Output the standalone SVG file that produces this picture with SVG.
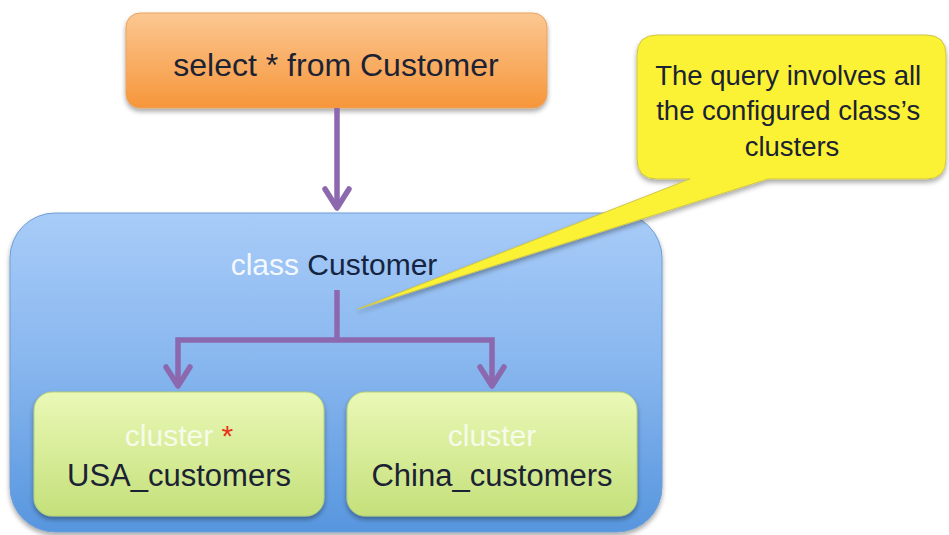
<svg xmlns="http://www.w3.org/2000/svg" width="949" height="535" viewBox="0 0 949 535">
  <defs>
    <linearGradient id="gOrange" x1="0" y1="0" x2="0" y2="1">
      <stop offset="0" stop-color="#FCC792"/>
      <stop offset="1" stop-color="#F6963A"/>
    </linearGradient>
    <linearGradient id="gBlue" x1="0" y1="0" x2="0" y2="1">
      <stop offset="0" stop-color="#A8CCF8"/>
      <stop offset="0.5" stop-color="#86B5EE"/>
      <stop offset="1" stop-color="#5796DE"/>
    </linearGradient>
    <linearGradient id="gGreen" x1="0" y1="0" x2="0" y2="1">
      <stop offset="0" stop-color="#EAF8B6"/>
      <stop offset="1" stop-color="#C4E07A"/>
    </linearGradient>
    <filter id="shadow" x="-10%" y="-10%" width="120%" height="130%">
      <feGaussianBlur in="SourceAlpha" stdDeviation="2.5"/>
      <feOffset dx="0" dy="2.5" result="b"/>
      <feComponentTransfer><feFuncA type="linear" slope="0.35"/></feComponentTransfer>
      <feMerge><feMergeNode/><feMergeNode in="SourceGraphic"/></feMerge>
    </filter>
    <marker id="chev" markerUnits="userSpaceOnUse" viewBox="0 0 30 30" markerWidth="30" markerHeight="30" refX="24" refY="15" orient="auto">
      <path d="M5,3 L24,15 L5,27" fill="none" stroke="#8C68AE" stroke-width="5.5" stroke-linecap="round" stroke-linejoin="round"/>
    </marker>
    <style>
      text { font-family: "Liberation Sans", Arial, sans-serif; }
      .dark { fill: #1B2233; }
      .light { fill: #F4F8FF; }
      .conn { fill: none; stroke: #8C68AE; stroke-width: 5.5; stroke-linejoin: miter; }
    </style>
  </defs>

  <rect width="949" height="535" fill="#FFFFFF"/>

  <g id="query">
    <rect x="126" y="13" width="421" height="95" rx="14" fill="url(#gOrange)" stroke="#E9A25E" stroke-width="1" filter="url(#shadow)"/>
    <text x="336" y="76" font-size="32" text-anchor="middle" class="dark">select * from Customer</text>
  </g>

  <g id="class-customer">
    <rect x="10" y="213" width="652" height="319" rx="45" fill="url(#gBlue)" stroke="#6F9ED6" stroke-width="1" filter="url(#shadow)"/>
    <text x="334" y="275" font-size="30" text-anchor="middle"><tspan class="light">class</tspan><tspan fill="#152440"> Customer</tspan></text>
  </g>

  <g id="cluster-usa">
    <rect x="34" y="392" width="290" height="124" rx="18" fill="url(#gGreen)" stroke="#B5CF78" stroke-width="1" filter="url(#shadow)"/>
    <text x="179" y="446" font-size="30" text-anchor="middle"><tspan fill="#F6FBEA">cluster</tspan><tspan fill="#E8341C"> *</tspan></text>
    <text x="179" y="486" font-size="31" text-anchor="middle" class="dark">USA_customers</text>
  </g>

  <g id="cluster-china">
    <rect x="347" y="392" width="290" height="124" rx="18" fill="url(#gGreen)" stroke="#B5CF78" stroke-width="1" filter="url(#shadow)"/>
    <text x="492" y="446" font-size="30" text-anchor="middle" fill="#F6FBEA">cluster</text>
    <text x="492" y="486" font-size="31" text-anchor="middle" class="dark">China_customers</text>
  </g>

  <g id="connectors">
    <path class="conn" d="M337,108 L337,208" marker-end="url(#chev)"/>
    <path class="conn" d="M337,290 L337,340"/>
    <path class="conn" d="M337,340 L178,340 L178,386" marker-end="url(#chev)"/>
    <path class="conn" d="M337,340 L492,340 L492,386" marker-end="url(#chev)"/>
  </g>

  <g id="callout">
    <path d="M657,35 L926,35 Q946,35 946,55 L946,159 Q946,179 926,179 L768,179 L358,309 L690,179 L657,179 Q637,179 637,159 L637,55 Q637,35 657,35 Z" fill="#FBF236" stroke="#CFC548" stroke-width="1" filter="url(#shadow)"/>
    <text font-size="27.5" text-anchor="middle" class="dark">
      <tspan x="792" y="85">The query involves all</tspan>
      <tspan x="792" y="120">the configured class’s</tspan>
      <tspan x="792" y="156">clusters</tspan>
    </text>
  </g>
</svg>
